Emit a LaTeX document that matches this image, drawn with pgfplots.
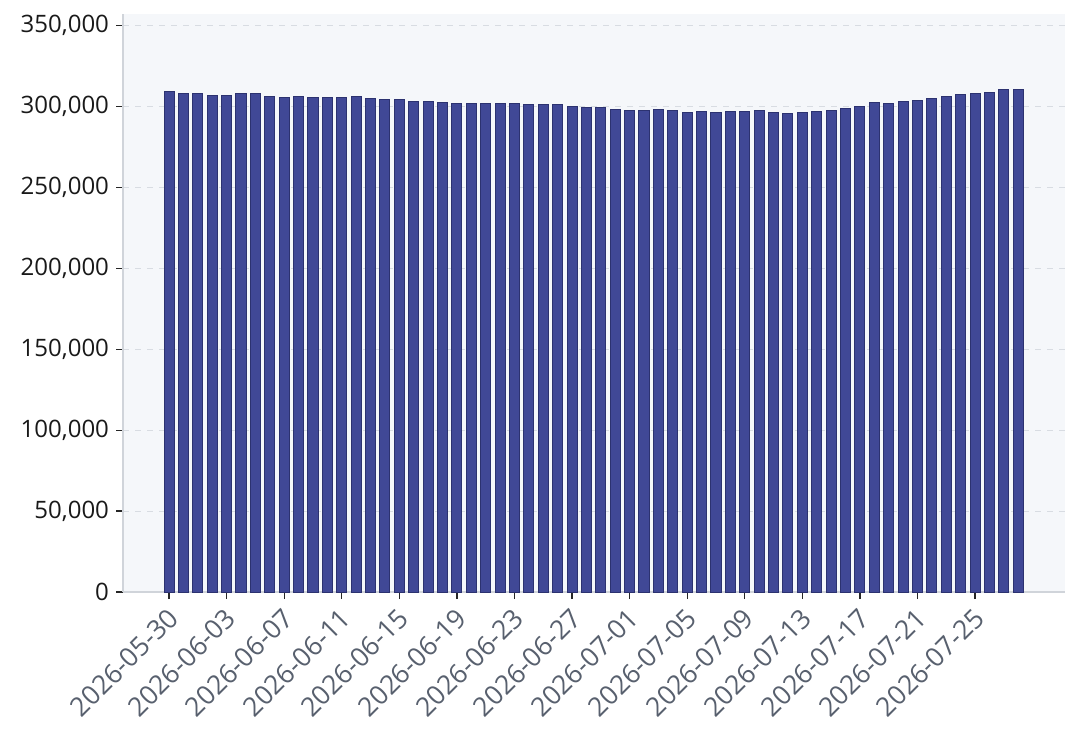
\documentclass[border=0pt]{standalone}
\usepackage{fontspec}
\setmainfont{Open Sans}
\usepackage{pgfplots}
\pgfplotsset{compat=1.18}
\definecolor{barfill}{RGB}{64,72,150}
\definecolor{baredge}{RGB}{44,50,112}
\definecolor{bgc}{RGB}{245,247,250}
\definecolor{gridc}{RGB}{216,220,226}
\definecolor{axc}{RGB}{208,212,218}
\definecolor{xlab}{RGB}{88,96,110}
\begin{document}
\begin{tikzpicture}
\path[use as bounding box] (-61.5pt,-71.5pt) rectangle (478.5pt,296pt);
\begin{axis}[
  at={(0,0)}, anchor=south west,
  width=471pt, height=289pt, scale only axis,
  xmin=-3.2, xmax=62.25,
  ymin=0, ymax=357100,
  axis background/.style={fill=bgc},
  axis x line*=bottom, axis y line*=left,
  axis line style={draw=axc, line width=0.6pt},
  every inner x axis line/.append style={-},
  every inner y axis line/.append style={-},
  ymajorgrids, grid style={gridc, dashed, line width=0.5pt},
  ytick={0,50000,100000,150000,200000,250000,300000,350000},
  yticklabels={0,{50,000},{100,000},{150,000},{200,000},{250,000},{300,000},{350,000}},
  scaled y ticks=false,
  xtick={0,4,...,56},
  xticklabels={2026-05-30,2026-06-03,2026-06-07,2026-06-11,2026-06-15,2026-06-19,2026-06-23,2026-06-27,2026-07-01,2026-07-05,2026-07-09,2026-07-13,2026-07-17,2026-07-21,2026-07-25},
  tick align=outside, major tick length=3.5pt,
  major tick style={black!85, line width=0.6pt},
  yticklabel style={text=black!90, font=\fontsize{12}{14}\selectfont},
  xticklabel style={rotate=45, anchor=north east, text=xlab, inner sep=1.5pt, xshift=-2pt, font=\fontsize{13.3}{15}\selectfont},
]
\addplot[ybar, bar width=0.7, fill=barfill, draw=baredge, line width=0.5pt] table[x=i, y=v] {
i v
0 309000
1 308000
2 308000
3 307000
4 307000
5 308000
6 308000
7 306300
8 305800
9 306300
10 305800
11 305800
12 305800
13 306300
14 305000
15 304000
16 304000
17 303000
18 303000
19 302400
20 302000
21 302000
22 301600
23 302000
24 301600
25 301000
26 301000
27 301000
28 300000
29 299300
30 299300
31 297900
32 297300
33 297300
34 297900
35 297300
36 296200
37 296600
38 296200
39 296600
40 296800
41 297300
42 296000
43 295600
44 296000
45 296600
46 297700
47 298700
48 300000
49 302600
50 302000
51 303300
52 303900
53 305000
54 306000
55 307200
56 308000
57 308600
58 310300
59 310600
};
\end{axis}
\end{tikzpicture}
\end{document}
